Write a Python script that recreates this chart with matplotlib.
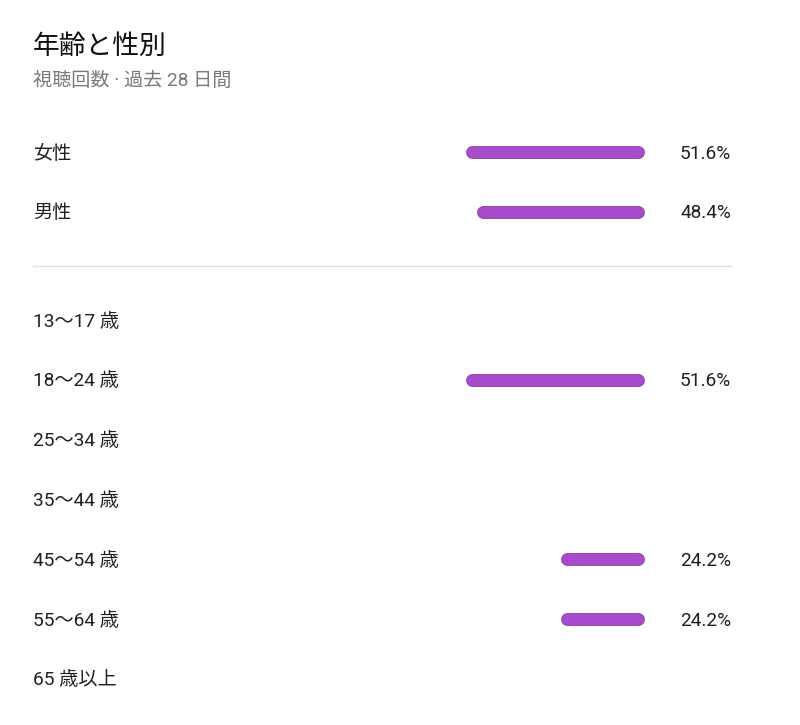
import matplotlib
matplotlib.use("Agg")
import matplotlib.pyplot as plt

title = "年齢と性別"
subtitle = "視聴回数 · 過去 28 日間"
gender_labels = ["女性", "男性"]
gender_values = [51.6, 48.4]
age_labels = ["13〜17 歳", "18〜24 歳", "25〜34 歳", "35〜44 歳", "45〜54 歳", "55〜64 歳", "65 歳以上"]
age_values = [0.0, 51.6, 0.0, 0.0, 24.2, 24.2, 0.0]

FAM = ["Roboto", "Noto Sans CJK JP", "DejaVu Sans"]
plt.rcParams["font.family"] = FAM

W, H = 800, 725
fig = plt.figure(figsize=(W / 100, H / 100), dpi=100)
ax = fig.add_axes([0, 0, 1, 1])
ax.set_axis_off()
# percent axis: 0% at x=644 px, growing leftwards at 3.45 px per percent
x0_px, ppp = 644.0, 3.45
ax.set_xlim(x0_px / ppp, (x0_px - W) / ppp)
ax.set_ylim(H, 0)

bar_color = "#a64bc9"
edge_color = "#9038b6"
lw_px = 12
r = (lw_px / 2) / ppp  # cap radius in percent units
text_dy = 1.5

def pct_x(px):
    return (x0_px - px) / ppp

label_x = pct_x(33)
value_x = pct_x(731)

def draw_row(y, label, value):
    ax.text(label_x, y + text_dy, label, ha="left", va="center", fontsize=13.8, color="#202020")
    if value > 0:
        ax.plot([r, value - r], [y, y], color=edge_color, lw=lw_px * 0.72 + 0.6,
                solid_capstyle="round")
        ax.plot([r, value - r], [y, y], color=bar_color, lw=lw_px * 0.72 - 0.6,
                solid_capstyle="round")
        ax.text(value_x, y + text_dy, f"{value:.1f}%", ha="right", va="center", fontsize=13.8, color="#202020")

ax.text(label_x, 46.5, title, ha="left", va="center", fontsize=19.3, color="#0f0f0f")
ax.text(label_x, 81, subtitle, ha="left", va="center", fontsize=13.8, color="#7a7a7a")

g_y0, step = 152, 59.8
for i, (lab, v) in enumerate(zip(gender_labels, gender_values)):
    draw_row(g_y0 + i * step, lab, v)

ax.plot([label_x, value_x], [266, 266], color="#e0e0e0", lw=1.0)

a_y0 = 320
for i, (lab, v) in enumerate(zip(age_labels, age_values)):
    draw_row(a_y0 + i * step, lab, v)

fig.savefig("out.png", dpi=100, facecolor="white")
